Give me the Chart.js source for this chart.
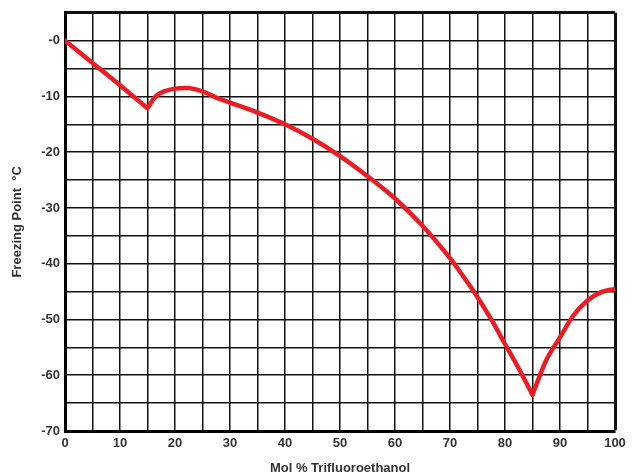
<!DOCTYPE html>
<html>
<head>
<meta charset="utf-8">
<script src="https://cdn.jsdelivr.net/npm/chart.js@4/dist/chart.umd.min.js"></script>
<style>
  html, body { margin: 0; padding: 0; background: #fff; }
  #wrap { width: 632px; height: 476px; }
</style>
</head>
<body>
<div id="wrap"><canvas id="fp" width="632" height="476"></canvas></div>
<script>
// mol % trifluoroethanol and freezing point (°C) in three branches
const molLeft = [0, 5, 10, 15];
const fpLeft = [0, -4, -8, -12.1];

const molMid = [15, 16.5, 18, 20, 22.5, 25, 27.5, 30, 35, 40, 45, 50, 55, 60, 65, 70, 72.5, 75, 77.5, 80, 82.5, 85];
const fpMid = [-12.1, -10, -9.1, -8.6, -8.5, -9.1, -10.2, -11.1, -12.9, -15, -17.6, -20.7, -24.3, -28.3, -33.2, -39, -42.4, -46, -50, -54.4, -58.8, -63.5];

const molRight = [85, 87.5, 90, 92.5, 95, 97.5, 100];
const fpRight = [-63.5, -57.3, -53.2, -49.2, -46.6, -45.1, -44.5];

const red = 'rgb(236, 28, 36)';
const labelFont = { family: 'Liberation Sans', size: 13, weight: 'bold' };

function pts(xs, ys) {
    return xs.map((x, i) => ({ x: x, y: ys[i] }));
}

function branch(xs, ys) {
    return {
        data: pts(xs, ys),
        borderColor: red,
        borderWidth: 4.5,
        pointRadius: 0,
        fill: false,
        tension: 0.35,
        borderCapStyle: 'round',
        borderJoinStyle: 'round'
    };
}

new Chart(document.getElementById('fp'), {
    type: 'line',
    data: {
        datasets: [
            branch(molLeft, fpLeft),
            branch(molMid, fpMid),
            branch(molRight, fpRight)
        ]
    },
    options: {
        responsive: false,
        animation: false,
        layout: { padding: { top: 11, right: 17, left: 0, bottom: 0 } },
        plugins: {
            legend: { display: false },
            tooltip: { enabled: false }
        },
        scales: {
            x: {
                type: 'linear',
                min: 0,
                max: 100,
                afterFit: scale => { scale.height = 45; },
                ticks: {
                    stepSize: 5,
                    autoSkip: false,
                    maxRotation: 0,
                    padding: 5,
                    color: '#333',
                    font: labelFont,
                    callback: v => (v % 10 === 0 ? String(v) : '')
                },
                grid: {
                    color: '#111',
                    lineWidth: ctx => (ctx.tick && ctx.tick.value === 100 ? 3 : 1.5),
                    drawTicks: false
                },
                border: { color: '#000', width: 3 },
                title: {
                    display: true,
                    text: 'Mol % Trifluoroethanol',
                    color: '#333',
                    padding: { top: 2, bottom: 0 },
                    font: labelFont
                }
            },
            y: {
                min: -70,
                max: 5,
                afterFit: scale => { scale.width = 65; },
                ticks: {
                    stepSize: 5,
                    autoSkip: false,
                    padding: 5,
                    color: '#333',
                    font: labelFont,
                    callback: v => (v <= 0 && v % 10 === 0 ? '-' + Math.abs(v) : '')
                },
                grid: {
                    color: '#111',
                    lineWidth: ctx => (ctx.tick && ctx.tick.value === 5 ? 3 : 1.5),
                    drawTicks: false
                },
                border: { color: '#000', width: 3 },
                title: {
                    display: true,
                    text: 'Freezing Point  °C',
                    color: '#333',
                    padding: { top: 10, bottom: 0 },
                    font: labelFont
                }
            }
        }
    }
});
</script>
</body>
</html>
